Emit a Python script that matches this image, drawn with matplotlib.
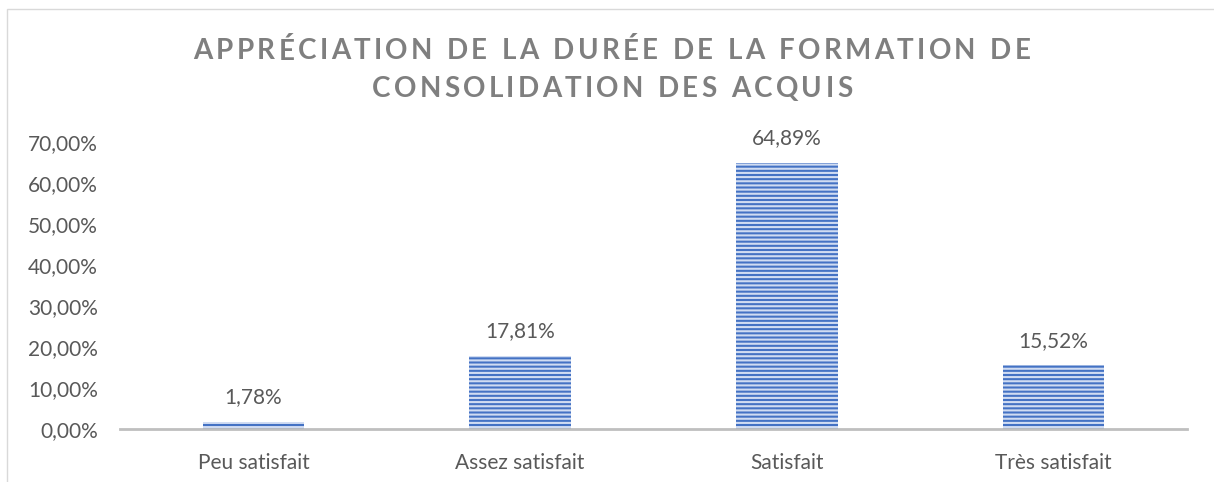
import numpy as np
import matplotlib.pyplot as plt
from matplotlib.patches import Rectangle

plt.rcParams['font.family'] = ['Lato', 'DejaVu Sans']
plt.rcParams['hatch.linewidth'] = 1.5

categories = ['Peu satisfait', 'Assez satisfait', 'Satisfait', 'Très satisfait']
values = [0.0178, 0.1781, 0.6489, 0.1552]
value_labels = ['1,78%', '17,81%', '64,89%', '15,52%']
yticks = [0.0, 0.1, 0.2, 0.3, 0.4, 0.5, 0.6, 0.7]
ytick_labels = ['0,00%', '10,00%', '20,00%', '30,00%', '40,00%', '50,00%', '60,00%', '70,00%']
title_lines = ['APPRÉCIATION DE LA DURÉE DE LA FORMATION DE', 'CONSOLIDATION DES ACQUIS']

text_color = '#595959'
W, H = 1214, 482

fig = plt.figure(figsize=(W / 100, H / 100), dpi=100)
ax = fig.add_axes([120 / W, 1 - 429 / H, 1067 / W, 287 / H])

x = np.arange(len(categories))
ax.bar(x, values, width=0.38, color='#4472C4', edgecolor='#d0dcf2',
       hatch='----', linewidth=0)

for xi, v, lab in zip(x, values, value_labels):
    ax.text(xi, v + 0.036, lab, ha='center', va='bottom', fontsize=15, color=text_color)

ax.set_xlim(-0.5, len(categories) - 0.5)
ax.set_ylim(0, 0.70)
ax.set_yticks(yticks)
ax.set_yticklabels(ytick_labels, fontsize=15, color=text_color)
ax.set_xticks(x)
ax.set_xticklabels(categories, fontsize=15, color=text_color)
ax.tick_params(axis='both', length=0)
ax.tick_params(axis='y', pad=16)
ax.tick_params(axis='x', pad=17)

for side in ['top', 'right', 'left']:
    ax.spines[side].set_visible(False)
ax.spines['bottom'].set_color('#bfbfbf')
ax.spines['bottom'].set_linewidth(2)

# letter-spaced title, placed character by character
renderer = fig.canvas.get_renderer()
title_kw = dict(fontsize=20, fontweight='bold', color='#7f7f7f', va='center', ha='left')


def char_widths(s):
    ws = []
    for ch in s:
        t = fig.text(0, 0, ch if ch != ' ' else 'n', **title_kw)
        w = t.get_window_extent(renderer).width
        if ch == ' ':
            w *= 0.5
        ws.append(w)
        t.remove()
    return ws


widths = [char_widths(line) for line in title_lines]
tracking = (837 - sum(widths[0])) / (len(title_lines[0]) - 1)
cx = 612
for i, (line, ws) in enumerate(zip(title_lines, widths)):
    total = sum(ws) + tracking * (len(line) - 1)
    xpos = cx - total / 2
    ypos = 1 - (51 + 38 * i) / H
    for ch, w in zip(line, ws):
        if ch != ' ':
            fig.text(xpos / W, ypos, ch, **title_kw)
        xpos += w + tracking

# chart frame
fig.patches.append(Rectangle((7 / W, -0.2), 1.2, 1 - 9 / H + 0.2,
                             transform=fig.transFigure, fill=False,
                             edgecolor='#d9d9d9', linewidth=1))

fig.savefig('out.png', dpi=100)
